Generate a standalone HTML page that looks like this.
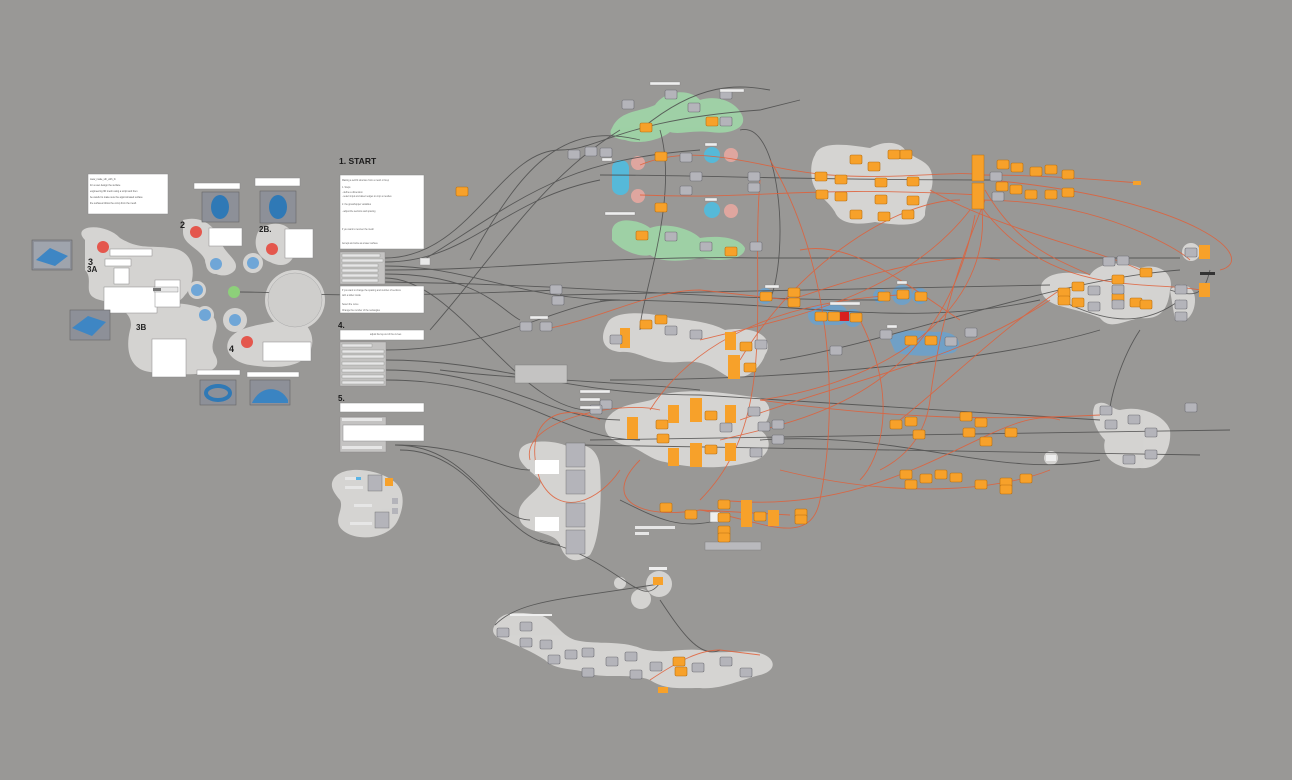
<!DOCTYPE html>
<html><head><meta charset="utf-8"><style>
html,body{margin:0;padding:0;background:#999896;width:1292px;height:780px;overflow:hidden}
svg{display:block}
text{font-family:"Liberation Sans",sans-serif}
</style></head><body>
<svg width="1292" height="780" viewBox="0 0 1292 780" xmlns="http://www.w3.org/2000/svg">
<rect width="1292" height="780" fill="#999896"/>
<defs>
<g id="on"><rect width="12" height="9" rx="1.5" fill="#f7a12a" stroke="#b86f10" stroke-width="0.6"/></g>
<g id="gn"><rect width="12" height="9" rx="1.5" fill="#b4b4ba" stroke="#6e6e74" stroke-width="0.6"/></g>
</defs>

<!-- ===== Blobs ===== -->
<g fill="#d8d7d5" opacity="0.95">
 <path d="M85,240 C70,225 105,222 120,238 C140,250 150,245 170,248 C200,250 195,285 185,295 C175,310 150,305 140,320 C130,335 150,350 170,360 C185,370 170,375 150,372 C130,370 125,350 130,330 C135,315 120,305 100,300 C80,295 95,280 85,270 Z"/>
 <path d="M135,320 C150,300 185,300 205,310 C230,325 205,340 215,355 C225,372 200,378 160,372 C140,368 125,345 135,320 Z"/>
 <path d="M183,220 C200,215 215,225 220,240 C225,255 240,260 235,270 C225,282 205,272 205,260 C200,248 183,245 183,232Z"/>
 <path d="M258,232 C270,218 292,222 295,240 C298,262 285,270 270,262 C258,258 252,245 258,232 Z"/>
 <circle cx="216" cy="264" r="10"/><circle cx="253" cy="263" r="10"/><circle cx="197" cy="290" r="9"/><circle cx="205" cy="315" r="9"/>
 <circle cx="235" cy="320" r="12"/>
 <circle cx="295" cy="300" r="30"/>
 <path d="M230,338 C240,325 265,325 280,320 C305,312 318,335 310,352 C300,370 270,368 250,365 C232,362 222,350 230,338 Z"/>
 <path d="M333,480 C340,465 375,468 392,480 C405,488 405,505 398,520 C390,538 360,542 345,532 C330,522 345,510 340,500 C333,492 330,486 333,480 Z"/>
 <path d="M520,450 C525,438 560,440 570,448 C585,440 600,450 600,470 C602,500 600,540 590,555 C575,565 565,560 560,545 C555,530 525,535 520,520 C512,500 545,490 540,480 C530,470 515,462 520,450 Z"/>
 <path d="M608,322 C615,310 650,312 670,318 C690,320 710,322 725,330 C760,325 775,340 765,355 C760,370 740,385 725,375 C710,365 700,360 680,362 C650,365 640,350 620,352 C600,350 600,335 608,322 Z"/>
 <path d="M610,415 C625,400 650,405 660,395 C690,388 720,392 760,398 C775,405 770,420 760,430 C775,440 770,458 750,462 C720,470 690,468 665,462 C650,460 640,448 625,445 C605,440 600,425 610,415 Z"/>
 <path d="M815,155 C820,140 850,145 870,148 C885,140 900,142 905,150 C915,160 930,160 932,175 C935,190 925,200 925,215 C920,228 895,225 875,222 C860,225 840,225 835,212 C828,200 815,195 812,180 C810,168 812,160 815,155 Z"/>
 <path d="M1042,283 C1050,270 1075,272 1090,275 C1100,260 1125,262 1140,268 C1160,262 1175,275 1170,290 C1168,310 1160,320 1140,318 C1120,322 1110,330 1100,318 C1085,312 1075,310 1060,306 C1045,302 1038,292 1042,283 Z"/>
 <circle cx="1191" cy="252" r="9"/>
 <path d="M1170,290 C1180,280 1195,285 1195,300 C1195,315 1185,325 1175,320 Z"/>
 <path d="M1095,405 C1105,398 1112,410 1120,410 C1140,405 1165,415 1170,430 C1172,450 1160,470 1140,468 C1120,470 1100,460 1105,440 C1095,430 1090,415 1095,405 Z"/>
 <circle cx="1051" cy="458" r="7"/>
 <path d="M495,625 C500,610 520,612 540,615 C555,620 560,635 575,640 C595,645 620,640 640,648 C660,655 680,648 700,650 C720,655 735,650 755,652 C775,655 780,670 760,675 C740,680 720,690 700,688 C680,688 665,690 650,680 C630,672 600,680 585,672 C570,668 555,670 545,660 C530,650 515,645 505,640 C495,638 490,632 495,625 Z"/>
 <circle cx="659" cy="584" r="13"/><circle cx="641" cy="599" r="10"/><circle cx="620" cy="583" r="6"/>
</g>
<g fill="#9fd3a6" opacity="0.95">
 <path d="M612,128 C620,110 640,112 655,105 C665,90 690,88 700,100 C715,95 735,100 742,115 C748,128 730,135 710,132 C690,130 680,135 670,132 C660,140 640,145 625,140 C612,138 608,134 612,128 Z"/>
 <path d="M612,230 C615,215 640,220 650,228 C665,222 690,228 700,238 C720,235 740,238 745,248 C745,260 720,262 700,258 C680,262 660,262 650,255 C640,258 620,250 612,240 Z"/>
</g>
<g fill="#4fbde0" opacity="0.9">
 <rect x="612" y="160" width="17" height="35" rx="8"/>
 <circle cx="712" cy="155" r="8"/><circle cx="712" cy="210" r="8"/>
</g>
<g fill="#e7a8a0" opacity="0.9">
 <circle cx="638" cy="163" r="7"/><circle cx="638" cy="196" r="7"/><circle cx="731" cy="155" r="7"/><circle cx="731" cy="211" r="7"/>
</g>
<g fill="#6aa2cf" opacity="0.85">
 <rect x="808" y="305" width="40" height="20" rx="10"/>
 <circle cx="853" cy="318" r="9"/>
 <circle cx="880" cy="296" r="7"/><circle cx="902" cy="295" r="10"/><circle cx="920" cy="296" r="8"/>
 <path d="M890,340 C895,328 915,330 935,332 C955,330 965,342 955,352 C940,358 905,356 895,352 Z"/>
 <circle cx="765" cy="296" r="8"/>
</g>

<!-- ===== Wires ===== -->
<g fill="none" stroke="#4d4d4d" stroke-width="0.9" opacity="0.85">
 <path d="M385,258 C470,258 500,150 560,150"/>
 <path d="M385,262 C470,262 500,200 600,180"/>
 <path d="M385,266 C470,266 520,300 620,300"/>
 <path d="M385,270 C520,270 600,255 760,258 L1180,258"/>
 <path d="M385,274 C480,274 500,310 520,320"/>
 <path d="M385,278 C460,278 520,420 600,410"/>
 <path d="M385,350 C500,350 560,300 620,300"/>
 <path d="M385,360 C500,360 560,395 700,395 L1100,420"/>
 <path d="M385,370 C500,370 550,420 620,420"/>
 <path d="M385,380 C520,380 560,440 640,440"/>
 <path d="M240,292 C300,292 320,300 560,290"/>
 <path d="M395,445 C470,445 500,470 530,470"/>
 <path d="M395,445 C470,445 490,520 530,520"/>
 <path d="M400,450 C480,450 500,545 560,545"/>
 <path d="M430,330 C500,250 540,180 620,130"/>
 <path d="M470,260 C520,170 560,120 640,140"/>
 <path d="M560,295 L1050,285"/>
 <path d="M600,300 C800,300 900,330 1040,300"/>
 <path d="M590,440 L1230,430"/>
 <path d="M580,445 L1200,455"/>
 <path d="M610,380 C800,380 1000,360 1100,330"/>
 <path d="M760,440 C900,430 1000,480 1100,460"/>
 <path d="M780,360 C900,340 1050,280 1180,270"/>
 <path d="M640,130 C700,80 740,85 770,90"/>
 <path d="M740,130 C780,120 790,250 770,300"/>
 <path d="M660,130 C680,200 640,300 640,330"/>
 <path d="M540,540 C620,560 640,610 659,584"/>
 <path d="M659,584 C560,600 520,600 495,625"/>
 <path d="M660,600 C680,630 700,660 720,650"/>
 <path d="M1140,330 C1120,360 1110,400 1110,410"/>
 <path d="M1170,290 C1200,300 1205,290 1210,270"/>
 <path d="M560,150 C600,150 620,120 760,110 L800,100"/>
 <path d="M440,370 C520,380 600,380 700,390"/>
 <path d="M620,500 C660,520 680,530 720,520"/>
 <path d="M420,262 C520,200 560,160 700,150"/>
 <path d="M385,282 C600,285 700,300 880,300"/>
 <path d="M600,175 C700,175 800,180 990,180"/>
 <path d="M1060,300 C1100,320 1140,330 1180,300"/>
</g>
<g fill="none" stroke="#e0603a" stroke-width="0.9" opacity="0.85">
 <path d="M640,165 C700,140 760,170 830,175 C900,180 960,170 980,175"/>
 <path d="M640,195 C760,200 800,185 980,195"/>
 <path d="M980,175 C1050,175 1100,180 1140,183"/>
 <path d="M980,195 C1000,300 900,380 760,400"/>
 <path d="M980,200 C1100,200 1180,250 1190,260"/>
 <path d="M980,205 C1050,300 1150,280 1200,290"/>
 <path d="M990,180 C1200,200 1260,260 1220,270"/>
 <path d="M970,210 C900,300 780,320 700,340"/>
 <path d="M975,215 C940,400 800,420 720,440"/>
 <path d="M760,180 C750,300 780,420 700,500"/>
 <path d="M770,160 C830,260 840,400 820,500 C810,550 760,520 700,510"/>
 <path d="M600,420 C560,400 520,420 540,480 C560,520 600,500 620,470"/>
 <path d="M650,410 C700,330 800,300 900,295"/>
 <path d="M740,420 C850,380 960,360 1050,300"/>
 <path d="M760,400 C900,420 1000,420 1100,415"/>
 <path d="M780,470 C900,500 1000,490 1050,470"/>
 <path d="M640,460 C600,500 640,520 700,510 L790,515"/>
 <path d="M860,320 C900,400 880,460 860,480"/>
 <path d="M720,500 C900,520 1000,400 1060,420"/>
 <path d="M1060,290 C1000,330 950,380 900,420"/>
 <path d="M740,360 C800,260 900,200 960,200"/>
 <path d="M540,330 C600,320 650,290 700,290 L790,300"/>
 <path d="M530,460 C520,420 620,400 660,410"/>
 <path d="M650,680 C680,660 700,650 720,650 L760,655"/>
 <path d="M985,200 C960,260 940,320 930,400 C925,440 900,460 880,470"/>
 <path d="M985,190 C1020,250 1060,260 1090,275"/>
 <path d="M930,190 C1000,230 1100,250 1140,270"/>
 <path d="M800,250 C850,240 900,280 960,320"/>
 <path d="M790,300 C850,280 940,250 1000,260"/>
</g>

<!-- ===== Left text / panels ===== -->
<g fill="#ffffff" stroke="#8a8a8a" stroke-width="0.5">
 <rect x="88" y="174" width="80" height="40"/>
 <rect x="110" y="249" width="42" height="7"/>
 <rect x="194" y="183" width="46" height="6"/>
 <rect x="255" y="178" width="45" height="8"/>
 <rect x="114" y="268" width="15" height="16"/>
 <rect x="105" y="259" width="26" height="7"/>
 <rect x="104" y="287" width="53" height="26"/>
 <rect x="155" y="280" width="25" height="27"/>
 <rect x="209" y="228" width="33" height="18"/>
 <rect x="285" y="229" width="28" height="29"/>
 <rect x="152" y="339" width="34" height="38"/>
 <rect x="263" y="342" width="48" height="19"/>
 <rect x="197" y="370" width="43" height="5"/>
 <rect x="247" y="372" width="52" height="5"/>
</g>
<rect x="154" y="287" width="24" height="5" fill="#e8e8e8" stroke="#777" stroke-width="0.4"/>
<rect x="153" y="288" width="8" height="3" fill="#777"/>
<circle cx="295" cy="300" r="27" fill="#cfcecc" stroke="#aaa" stroke-width="0.5"/>
<g fill="#555" font-size="2.4">
 <text x="90" y="180">www_make_sth_with_fn</text>
 <text x="90" y="186">for a user design the surface</text>
 <text x="90" y="192">engineering 3D mesh using a script and then</text>
 <text x="90" y="198">be careful to make sure the approximated surface</text>
 <text x="90" y="204">the surfaces follow the comp from the mesh</text>
</g>
<g>
 <rect x="32" y="240" width="40" height="30" fill="#8d9098" stroke="#666" stroke-width="0.6"/>
 <rect x="34" y="242" width="36" height="26" fill="#9fa4ad"/>
 <path d="M36,260 L50,248 L68,256 L55,266 Z" fill="#3e86c4"/>
 <rect x="70" y="310" width="40" height="30" fill="#8d9098" stroke="#666" stroke-width="0.6"/>
 <path d="M72,328 L88,316 L106,322 L92,336 Z" fill="#3e86c4"/>
 <rect x="202" y="192" width="37" height="30" fill="#8d9098" stroke="#666" stroke-width="0.6"/>
 <ellipse cx="220" cy="207" rx="9" ry="12" fill="#2f79b6"/>
 <rect x="260" y="191" width="36" height="32" fill="#8d9098" stroke="#666" stroke-width="0.6"/>
 <ellipse cx="278" cy="207" rx="9" ry="12" fill="#2f79b6"/>
 <rect x="200" y="380" width="36" height="25" fill="#8d9098" stroke="#666" stroke-width="0.6"/>
 <ellipse cx="218" cy="393" rx="12" ry="7" fill="none" stroke="#2f79b6" stroke-width="4"/>
 <rect x="250" y="380" width="40" height="25" fill="#8d9098" stroke="#666" stroke-width="0.6"/>
 <path d="M252,403 C260,385 280,385 288,400 L288,403 Z" fill="#3a84c2"/>
</g>
<g>
 <circle cx="103" cy="247" r="6" fill="#e4574d"/><circle cx="196" cy="232" r="6" fill="#e4574d"/>
 <circle cx="272" cy="249" r="6" fill="#e4574d"/><circle cx="247" cy="342" r="6" fill="#e4574d"/>
 <circle cx="216" cy="264" r="6" fill="#6fa6d7"/><circle cx="253" cy="263" r="6" fill="#6fa6d7"/>
 <circle cx="197" cy="290" r="6" fill="#6fa6d7"/><circle cx="205" cy="315" r="6" fill="#6fa6d7"/>
 <circle cx="235" cy="320" r="6" fill="#6fa6d7"/><circle cx="234" cy="292" r="6" fill="#8dd07a"/>
</g>
<g font-weight="bold" fill="#222" font-size="9">
 <text x="88" y="265">3</text><text x="180" y="228">2</text><text x="259" y="232" font-size="8">2B.</text>
 <text x="87" y="272" font-size="8">3A</text><text x="136" y="330" font-size="8">3B</text><text x="229" y="352">4</text>
</g>

<!-- ===== START column ===== -->
<text x="339" y="164" font-size="8.5" font-weight="bold" fill="#1a1a1a">1. START</text>
<rect x="340" y="175" width="84" height="74" fill="#fff" stroke="#888" stroke-width="0.5"/>
<g fill="#666" font-size="2.3">
 <text x="342" y="181">Making a self-fit structure from a mesh or brep</text>
 <text x="342" y="188">1. Steps</text><text x="342" y="193">- define a dimension</text>
 <text x="342" y="197">- select input and detect edges to crop a meshes</text>
 <text x="342" y="205">2. the grasshopper variables</text>
 <text x="342" y="212">- adjust the sections and spacing</text>
 <text x="342" y="230">if you want to recover the mesh</text>
 <text x="342" y="244">Accept and write as a laser surface</text>
</g>
<rect x="340" y="252" width="45" height="32" fill="#c4c3c2" stroke="#888" stroke-width="0.4"/>
<g fill="#e6e6e6" stroke="#777" stroke-width="0.3">
 <rect x="342" y="254" width="38" height="3"/><rect x="342" y="259" width="41" height="3"/><rect x="342" y="264" width="36" height="3"/>
 <rect x="342" y="269" width="36" height="3"/><rect x="342" y="274" width="36" height="3"/><rect x="342" y="279" width="36" height="3"/>
</g>
<rect x="420" y="258" width="10" height="7" fill="#e8e8e8" stroke="#888" stroke-width="0.4"/>
<rect x="340" y="286" width="84" height="27" fill="#fff" stroke="#888" stroke-width="0.5"/>
<g fill="#666" font-size="2.3"><text x="342" y="291">If you want to change the spacing and number of sections</text><text x="342" y="296">with a slider inside</text><text x="342" y="305">Select the curve</text><text x="342" y="311">Change the number of the rectangles</text></g>
<text x="338" y="328" font-size="8" font-weight="bold" fill="#1a1a1a">4.</text>
<rect x="340" y="330" width="84" height="10" fill="#fff" stroke="#888" stroke-width="0.5"/>
<text x="370" y="335" font-size="2.3" fill="#666">adjust the lay-out of the curves</text>
<rect x="340" y="342" width="46" height="44" fill="#c4c3c2" stroke="#888" stroke-width="0.4"/>
<g fill="#e6e6e6" stroke="#777" stroke-width="0.3">
 <rect x="342" y="344" width="30" height="3"/><rect x="342" y="350" width="42" height="3"/><rect x="342" y="355" width="42" height="3"/>
 <rect x="342" y="362" width="42" height="3"/><rect x="342" y="369" width="42" height="3"/><rect x="342" y="375" width="42" height="3"/><rect x="342" y="381" width="42" height="3"/>
</g>
<text x="338" y="401" font-size="8" font-weight="bold" fill="#1a1a1a">5.</text>
<rect x="340" y="403" width="84" height="9" fill="#fff" stroke="#888" stroke-width="0.5"/>
<rect x="340" y="417" width="46" height="35" fill="#c4c3c2" stroke="#888" stroke-width="0.4"/>
<rect x="343" y="425" width="81" height="16" fill="#fff" stroke="#888" stroke-width="0.5"/>
<rect x="342" y="418" width="40" height="3" fill="#e6e6e6"/><rect x="342" y="446" width="40" height="3" fill="#e6e6e6"/>
<g>
 <rect x="345" y="477" width="14" height="3" fill="#e6e6e6"/><rect x="356" y="477" width="5" height="3" fill="#5ab4e6"/>
 <rect x="368" y="475" width="14" height="16" fill="#b4b4ba" stroke="#666" stroke-width="0.4"/>
 <rect x="385" y="478" width="8" height="8" fill="#f7a12a"/>
 <rect x="345" y="486" width="18" height="3" fill="#e6e6e6"/>
 <rect x="375" y="512" width="14" height="16" fill="#b4b4ba" stroke="#666" stroke-width="0.4"/>
 <rect x="354" y="504" width="18" height="3" fill="#e6e6e6"/><rect x="350" y="522" width="22" height="3" fill="#e6e6e6"/>
 <rect x="392" y="498" width="6" height="6" fill="#b4b4ba"/><rect x="392" y="508" width="6" height="6" fill="#b4b4ba"/>
</g>
<g fill="#b4b4ba" stroke="#666" stroke-width="0.4">
 <rect x="566" y="443" width="19" height="24"/><rect x="566" y="470" width="19" height="24"/>
 <rect x="566" y="503" width="19" height="24"/><rect x="566" y="530" width="19" height="24"/>
</g>
<rect x="535" y="460" width="24" height="14" fill="#fff"/><rect x="535" y="517" width="24" height="14" fill="#fff"/>
<rect x="515" y="365" width="52" height="18" fill="#c4c3c2" stroke="#777" stroke-width="0.4"/>
<rect x="705" y="542" width="56" height="8" fill="#b9b9bd" stroke="#777" stroke-width="0.4"/>

<!-- ===== Nodes ===== -->
<g>
 <use href="#on" x="456" y="187"/>
 <use href="#gn" x="568" y="150"/><use href="#gn" x="585" y="147"/><use href="#gn" x="600" y="148"/>
 <use href="#gn" x="550" y="285"/><use href="#gn" x="552" y="296"/><use href="#gn" x="520" y="322"/><use href="#gn" x="540" y="322"/>
 <use href="#on" x="655" y="152"/><use href="#on" x="655" y="203"/><use href="#gn" x="680" y="153"/><use href="#gn" x="690" y="172"/>
 <use href="#gn" x="680" y="186"/><use href="#gn" x="748" y="172"/><use href="#gn" x="748" y="183"/>
 <use href="#gn" x="622" y="100"/><use href="#gn" x="665" y="90"/><use href="#on" x="706" y="117"/><use href="#gn" x="720" y="117"/>
 <use href="#on" x="640" y="123"/><use href="#on" x="636" y="231"/><use href="#gn" x="665" y="232"/><use href="#on" x="725" y="247"/>
 <use href="#gn" x="688" y="103"/><use href="#gn" x="700" y="242"/><use href="#gn" x="750" y="242"/>
 <use href="#gn" x="720" y="90"/>
 <use href="#on" x="815" y="172"/><use href="#on" x="816" y="190"/><use href="#on" x="835" y="175"/><use href="#on" x="835" y="192"/>
 <use href="#on" x="850" y="155"/><use href="#on" x="868" y="162"/><use href="#on" x="875" y="178"/><use href="#on" x="875" y="195"/>
 <use href="#on" x="888" y="150"/><use href="#on" x="900" y="150"/><use href="#on" x="907" y="177"/><use href="#on" x="907" y="196"/>
 <use href="#on" x="850" y="210"/><use href="#on" x="878" y="212"/><use href="#on" x="902" y="210"/>
 <rect x="972" y="155" width="12" height="26" fill="#f7a12a" stroke="#b86f10" stroke-width="0.5"/>
 <rect x="972" y="183" width="12" height="26" fill="#f7a12a" stroke="#b86f10" stroke-width="0.5"/>
 <use href="#on" x="1011" y="163"/><use href="#on" x="1030" y="167"/><use href="#on" x="1045" y="165"/><use href="#on" x="1062" y="170"/>
 <use href="#on" x="1010" y="185"/><use href="#on" x="1025" y="190"/><use href="#on" x="1045" y="190"/><use href="#on" x="1062" y="188"/>
 <use href="#gn" x="990" y="172"/><use href="#gn" x="992" y="192"/><use href="#on" x="997" y="160"/><use href="#on" x="996" y="182"/>
 <rect x="1133" y="181" width="8" height="4" fill="#f7a12a"/>
 <use href="#on" x="1058" y="288"/><use href="#on" x="1058" y="296"/><use href="#on" x="1072" y="282"/><use href="#on" x="1072" y="298"/>
 <use href="#gn" x="1088" y="286"/><use href="#gn" x="1088" y="302"/><use href="#gn" x="1103" y="257"/><use href="#gn" x="1117" y="256"/>
 <use href="#on" x="1112" y="275"/><use href="#on" x="1140" y="268"/><use href="#on" x="1112" y="293"/><use href="#on" x="1130" y="298"/><use href="#on" x="1140" y="300"/>
 <use href="#gn" x="1112" y="285"/><use href="#gn" x="1112" y="300"/><use href="#gn" x="1175" y="285"/><use href="#gn" x="1175" y="300"/><use href="#gn" x="1175" y="312"/>
 <use href="#gn" x="1185" y="248"/><rect x="1199" y="245" width="11" height="14" fill="#f7a12a"/><rect x="1199" y="283" width="11" height="14" fill="#f7a12a"/>
 <rect x="1200" y="272" width="15" height="3" fill="#333"/>
 <use href="#on" x="760" y="292"/><use href="#on" x="788" y="288"/><use href="#on" x="788" y="298"/>
 <use href="#on" x="815" y="312"/><use href="#on" x="828" y="312"/><rect x="840" y="312" width="9" height="9" fill="#d81f1f"/>
 <use href="#on" x="850" y="313"/><use href="#on" x="878" y="292"/><use href="#on" x="897" y="290"/><use href="#on" x="915" y="292"/>
 <use href="#on" x="905" y="336"/><use href="#on" x="925" y="336"/><use href="#gn" x="945" y="337"/><use href="#gn" x="965" y="328"/>
 <use href="#gn" x="880" y="330"/>
 <rect x="620" y="328" width="10" height="20" fill="#f7a12a"/><use href="#gn" x="610" y="335"/>
 <use href="#on" x="640" y="320"/><use href="#on" x="655" y="315"/><use href="#gn" x="665" y="326"/><use href="#gn" x="690" y="330"/>
 <rect x="725" y="332" width="11" height="18" fill="#f7a12a"/><use href="#on" x="740" y="342"/><use href="#gn" x="755" y="340"/>
 <rect x="728" y="355" width="12" height="24" fill="#f7a12a"/><use href="#on" x="744" y="363"/>
 <rect x="627" y="417" width="11" height="22" fill="#f7a12a"/><use href="#on" x="656" y="420"/><use href="#on" x="657" y="434"/>
 <rect x="668" y="405" width="11" height="18" fill="#f7a12a"/><rect x="690" y="398" width="12" height="24" fill="#f7a12a"/>
 <use href="#on" x="705" y="411"/><rect x="725" y="405" width="11" height="18" fill="#f7a12a"/><use href="#gn" x="748" y="407"/>
 <rect x="668" y="448" width="11" height="18" fill="#f7a12a"/><rect x="690" y="443" width="12" height="24" fill="#f7a12a"/>
 <use href="#on" x="705" y="445"/><rect x="725" y="443" width="11" height="18" fill="#f7a12a"/><use href="#gn" x="750" y="448"/>
 <use href="#gn" x="758" y="422"/><use href="#gn" x="772" y="420"/><use href="#gn" x="772" y="435"/>
 <use href="#gn" x="600" y="400"/><use href="#gn" x="590" y="405"/><use href="#on" x="660" y="503"/><use href="#on" x="685" y="510"/>
 <rect x="710" y="512" width="10" height="10" fill="#eee" stroke="#777" stroke-width="0.4"/>
 <use href="#on" x="718" y="500"/><use href="#on" x="718" y="513"/><use href="#on" x="718" y="526"/><use href="#on" x="718" y="533"/>
 <rect x="741" y="500" width="11" height="27" fill="#f7a12a"/><use href="#on" x="754" y="512"/><rect x="768" y="510" width="11" height="16" fill="#f7a12a"/>
 <use href="#on" x="795" y="509"/><use href="#on" x="795" y="515"/>
 <rect x="635" y="526" width="40" height="3" fill="#e6e6e6"/><rect x="635" y="532" width="14" height="3" fill="#e6e6e6"/>
 <use href="#on" x="890" y="420"/><use href="#on" x="905" y="417"/><use href="#on" x="913" y="430"/><use href="#on" x="960" y="412"/>
 <use href="#on" x="963" y="428"/><use href="#on" x="975" y="418"/><use href="#on" x="1005" y="428"/><use href="#on" x="980" y="437"/>
 <use href="#on" x="900" y="470"/><use href="#on" x="905" y="480"/><use href="#on" x="920" y="474"/><use href="#on" x="935" y="470"/>
 <use href="#on" x="950" y="473"/><use href="#on" x="975" y="480"/><use href="#on" x="1000" y="478"/><use href="#on" x="1020" y="474"/><use href="#on" x="1000" y="485"/>
 <use href="#gn" x="1100" y="406"/><use href="#gn" x="1105" y="420"/><use href="#gn" x="1128" y="415"/><use href="#gn" x="1145" y="428"/><use href="#gn" x="1145" y="450"/>
 <use href="#gn" x="1123" y="455"/><use href="#gn" x="1185" y="403"/><rect x="1046" y="455" width="10" height="6" fill="#eee"/>
 <use href="#gn" x="720" y="423"/><use href="#gn" x="830" y="346"/>
 <use href="#gn" x="497" y="628"/><use href="#gn" x="520" y="622"/><use href="#gn" x="520" y="638"/><use href="#gn" x="540" y="640"/>
 <use href="#gn" x="548" y="655"/><use href="#gn" x="565" y="650"/><use href="#gn" x="582" y="648"/><use href="#gn" x="582" y="668"/>
 <use href="#gn" x="606" y="657"/><use href="#gn" x="625" y="652"/><use href="#gn" x="630" y="670"/><use href="#gn" x="650" y="662"/>
 <use href="#on" x="673" y="657"/><use href="#on" x="675" y="667"/><use href="#gn" x="692" y="663"/><use href="#gn" x="720" y="657"/><use href="#gn" x="740" y="668"/>
 <rect x="653" y="577" width="10" height="8" fill="#f7a12a"/>
 <rect x="510" y="614" width="42" height="2" fill="#eee"/><rect x="649" y="567" width="18" height="3" fill="#eee"/>
 <rect x="658" y="687" width="10" height="6" fill="#f7a12a"/>
</g>
<g fill="#eeeeee" stroke="#777" stroke-width="0.3">
 <rect x="650" y="82" width="30" height="3"/><rect x="720" y="89" width="24" height="3"/><rect x="605" y="212" width="30" height="3"/>
 <rect x="602" y="158" width="10" height="3"/><rect x="705" y="143" width="12" height="3"/><rect x="705" y="198" width="12" height="3"/>
 <rect x="830" y="302" width="30" height="3"/><rect x="897" y="281" width="10" height="3"/><rect x="887" y="325" width="10" height="3"/>
 <rect x="530" y="316" width="18" height="3"/><rect x="580" y="390" width="30" height="3"/><rect x="580" y="398" width="20" height="3"/>
 <rect x="580" y="406" width="20" height="3"/><rect x="765" y="285" width="14" height="3"/>
</g>
</svg>
</body></html>
